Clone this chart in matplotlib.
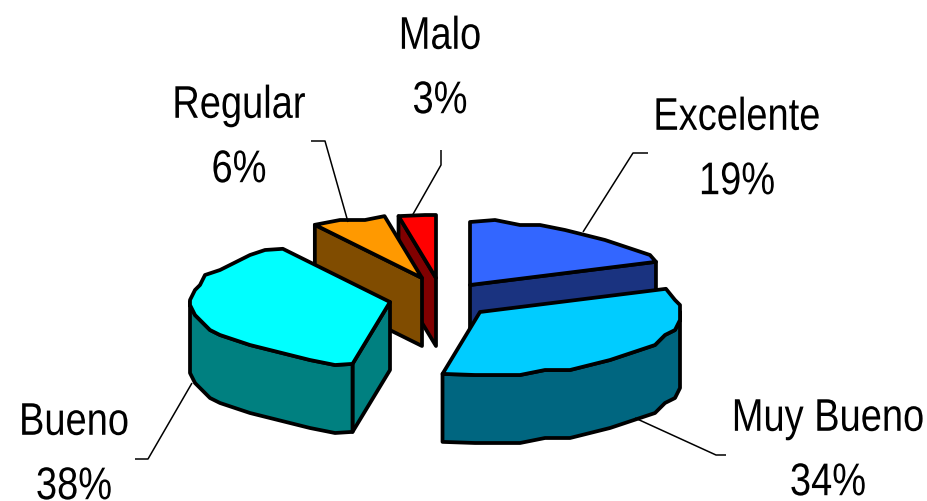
#!/usr/bin/python

# Exploded 3D pie of survey answers, projected by hand since pie() is flat only

import numpy as np
import matplotlib
matplotlib.use('Agg')
import matplotlib.pyplot as plt
from matplotlib.patches import Polygon
from matplotlib.patheffects import AbstractPathEffect
from matplotlib.transforms import Affine2D

labels = ['Excelente', 'Muy Bueno', 'Bueno', 'Regular', 'Malo']
values = [19, 34, 38, 6, 3]
top_colors = ['#3366FF', '#00CCFF', '#00FFFF', '#FF9900', '#FF0000']
side_colors = ['#1A3380', '#006680', '#008080', '#804C00', '#800000']

# apex of each exploded slice, pixels
apex = [(470, 285), (480, 312), (390, 302), (422, 278), (436, 278)]
text_pos = [(737, 150), (828, 451), (74, 455), (239, 138), (440, 69)]
# where the unsqueezed text box sits, so that it stays inside the figure
text_anchor = [(737, 150), (808, 440), (80, 440), (239, 138), (440, 73)]
leaders = [
    [(583, 232), (633, 153), (648, 153)],
    [(635, 418), (716, 455), (726, 455)],
    [(192, 383), (148, 459), (135, 459)],
    [(348, 222), (325, 141), (311, 141)],
    [(412, 216), (441, 165), (441, 150)]]
draw_order = [4, 3, 0, 2, 1]

rx = 200.
ry = 63.
depth = 68.
snap = 5.
step = 7.
lw = 2.7

plt.rcParams['font.family'] = ['Liberation Sans', 'DejaVu Sans']

fig = plt.figure(figsize=(9.27, 5.01), dpi=100)
ax = fig.add_axes([0, 0, 1, 1])
ax.set_xlim(0, 927)
ax.set_ylim(501, 0)
ax.axis('off')


class Squeeze(AbstractPathEffect):
    # the labels in the original are a condensed Arial
    def __init__(self, sx, start, end):
        self.sx, self.start, self.end = sx, start, end

    def draw_path(self, renderer, gc, tpath, affine, rgbFace=None):
        squeeze = (Affine2D().translate(-self.start[0], 0).scale(self.sx, 1)
                   .translate(self.end[0], self.start[1] - self.end[1]))
        renderer.draw_path(gc, tpath, affine + squeeze, rgbFace)


def rim_point(cx, cy, a):
    return np.array([cx + rx * np.sin(np.radians(a)), cy - ry * np.cos(np.radians(a))])


def rim(cx, cy, a0, a1):
    # the rough edge of the original comes from points snapped to a coarse grid
    a = np.arange(0., 361., step)
    a = a[(a > a0 + 2) & (a < a1 - 2)]
    mid = [np.round(rim_point(cx, cy, t) / snap) * snap for t in a]
    return np.array([rim_point(cx, cy, a0)] + mid + [rim_point(cx, cy, a1)])


def face(pts, color):
    ax.add_patch(Polygon(pts, closed=True, fc=color, ec='k', lw=lw, joinstyle='round'))


for pts in leaders:
    ax.plot(*zip(*pts), color='k', lw=1.1, solid_capstyle='butt')

edges = np.cumsum([0] + values) * 3.6
down = np.array([0, depth])

for i in draw_order:
    cx, cy = apex[i]
    a0, a1 = edges[i], edges[i + 1]
    c = np.array([cx, cy], dtype=float)
    for a, vis in ((a0, np.sin(np.radians(a0)) < -1e-6), (a1, np.sin(np.radians(a1)) > 1e-6)):
        if vis:
            p = rim_point(cx, cy, a)
            face([c, p, p + down, c + down], side_colors[i])
    w0, w1 = max(a0, 90.), min(a1, 270.)
    if w1 > w0:
        r = rim(cx, cy, w0, w1)
        face(np.vstack([r, (r + down)[::-1]]), side_colors[i])
    face(np.vstack([c, rim(cx, cy, a0, a1)]), top_colors[i])

for name, v, pos, start in zip(labels, values, text_pos, text_anchor):
    ax.text(start[0], start[1], '%s\n%d%%' % (name, v), fontsize=33, ha='center', va='center',
            linespacing=1.6, color='k', path_effects=[Squeeze(0.83, start, pos)])

fig.savefig('out.png', dpi=100)
